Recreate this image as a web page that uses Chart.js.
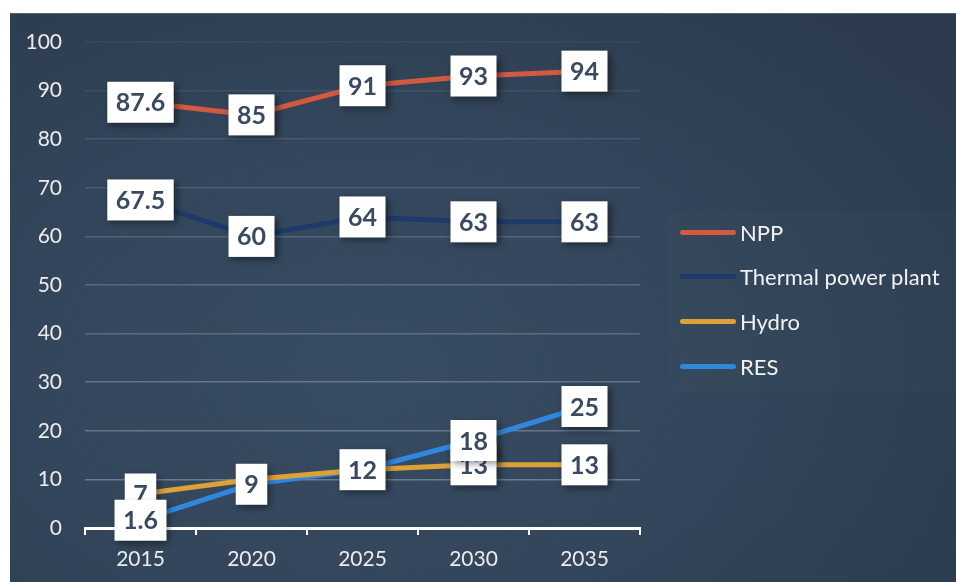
<!DOCTYPE html>
<html>
<head>
<meta charset="utf-8">
<script src="https://cdn.jsdelivr.net/npm/chart.js@4.4.1/dist/chart.umd.min.js"></script>
<style>
  html, body { margin: 0; padding: 0; background: #fff; }
  #panel {
    position: absolute; left: 10px; top: 13px; width: 946px; height: 569px;
    background: radial-gradient(ellipse 80% 90% at 38% 62%, #384c62 0%, #33465b 45%, #2b3a4c 100%);
    border-top: 1px solid #56606c;
    box-sizing: border-box;
  }
  #panel canvas { position: absolute; left: 0; top: 0; }
  #legend {
    position: absolute; left: 658px; top: 197px; width: 288px; height: 180px;
    background: rgba(255,255,255,0.012);
    font-family: Lato, "Noto Sans", sans-serif; font-size: 22px; color: #f2f2f2;
  }
  .item { position: absolute; left: 12px; height: 24px; display: flex; align-items: center; white-space: nowrap; }
  .swatch { width: 56px; height: 5px; border-radius: 3px; margin-right: 4px; }
</style>
</head>
<body>
<div id="panel">
  <canvas id="chart" width="946" height="568"></canvas>
  <div id="legend"></div>
</div>
<script>
const years = ['2015', '2020', '2025', '2030', '2035'];
const seriesNames = ['NPP', 'Thermal power plant', 'Hydro', 'RES'];
const npp = [87.6, 85, 91, 93, 94];
const thermal = [67.5, 60, 64, 63, 63];
const hydro = [7, 10, 12, 13, 13];
const res = [1.6, 9, 12, 18, 25];
const colors = ['#d25a40', '#1d3b6a', '#dca137', '#2f87de'];
// which series show their value labels at each year (Hydro 2020/2025 hidden under RES)
const hydroLabels = [true, false, false, true, true];

const labelFont = 'bold 25px Lato, "Noto Sans", sans-serif';

const boxLabels = {
    id: 'boxLabels',
    afterDatasetsDraw(chart) {
        const ctx = chart.ctx;
        ctx.save();
        ctx.font = labelFont;
        ctx.textAlign = 'center';
        ctx.textBaseline = 'middle';
        chart.data.datasets.forEach((ds, di) => {
            const meta = chart.getDatasetMeta(di);
            meta.data.forEach((pt, i) => {
                if (ds.showLabel && !ds.showLabel[i]) return;
                const txt = String(ds.data[i]);
                const w = ctx.measureText(txt).width + 17;
                const h = 41;
                ctx.save();
                ctx.shadowColor = 'rgba(0,0,0,0.45)';
                ctx.shadowBlur = 7;
                ctx.shadowOffsetX = 3;
                ctx.shadowOffsetY = 3;
                ctx.fillStyle = '#ffffff';
                ctx.fillRect(pt.x - w / 2, pt.y - h / 2, w, h);
                ctx.restore();
                ctx.fillStyle = '#3a4a62';
                ctx.fillText(txt, pt.x, pt.y + 1);
            });
        });
        ctx.restore();
    }
};

const seriesData = [npp, thermal, hydro, res];
const datasets = seriesData.map((d, i) => ({
    label: seriesNames[i],
    data: d,
    borderColor: colors[i],
    backgroundColor: colors[i],
    borderWidth: 5,
    borderCapStyle: 'round',
    pointRadius: 0,
    tension: 0,
    showLabel: i === 2 ? hydroLabels : null
}));

new Chart(document.getElementById('chart'), {
    type: 'line',
    data: { labels: years, datasets: datasets },
    options: {
        responsive: false,
        animation: false,
        layout: { padding: { left: 0, top: 28, right: 316, bottom: 0 } },
        plugins: { legend: { display: false }, tooltip: { enabled: false } },
        scales: {
            x: {
                offset: true,
                grid: { offset: true, drawOnChartArea: false, color: '#ffffff', lineWidth: 2, tickLength: 7 },
                border: { color: '#ffffff', width: 3 },
                ticks: { color: '#ececec', font: { family: 'Lato', size: 21 }, padding: 12 },
                afterFit: s => { s.height = 54; }
            },
            y: {
                min: 0,
                max: 100,
                ticks: { stepSize: 10, color: '#ececec', font: { family: 'Lato', size: 21 }, padding: 2 },
                grid: {
                    drawTicks: true,
                    tickLength: 21,
                    tickColor: 'rgba(0,0,0,0)',
                    lineWidth: 1.5,
                    color: c => 'rgba(190,200,215,' + (0.45 - c.tick.value * 0.0038).toFixed(3) + ')'
                },
                border: { display: false },
                afterFit: s => { s.width = 75; }
            }
        }
    },
    plugins: [boxLabels]
});

const legend = document.getElementById('legend');
seriesNames.forEach((name, i) => {
    const item = document.createElement('div');
    item.className = 'item';
    item.style.top = (9 + i * 44.7) + 'px';
    const sw = document.createElement('span');
    sw.className = 'swatch';
    sw.style.background = colors[i];
    item.appendChild(sw);
    item.appendChild(document.createTextNode(name));
    legend.appendChild(item);
});
</script>
</body>
</html>
